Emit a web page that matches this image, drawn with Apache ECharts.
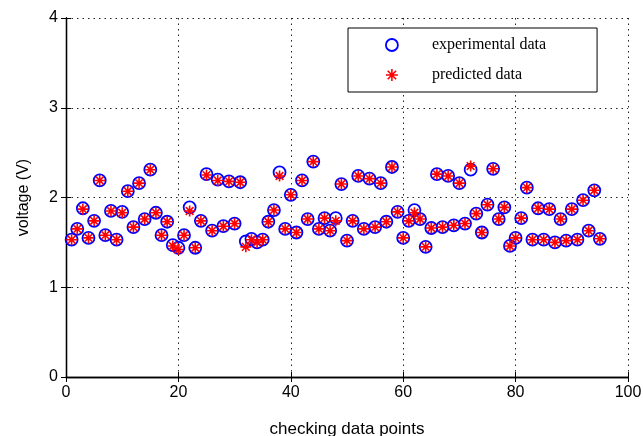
<!DOCTYPE html>
<html>
<head>
<meta charset="utf-8">
<script src="https://cdn.jsdelivr.net/npm/echarts@6/dist/echarts.min.js"></script>
<style>
html,body{margin:0;padding:0;background:#fff;}
#chart{width:643px;height:436px;}
</style>
</head>
<body>
<div id="chart"></div>
<script>
// Data
const xIndex = [1,2,3,4,5,6,7,8,9,10,11,12,13,14,15,16,17,18,19,20,21,22,23,24,25,26,27,28,29,30,31,32,33,34,35,36,37,38,39,40,41,42,43,44,45,46,47,48,49,50,51,52,53,54,55,56,57,58,59,60,61,62,63,64,65,66,67,68,69,70,71,72,73,74,75,76,77,78,79,80,81,82,83,84,85,86,87,88,89,90,91,92,93,94,95];
const experimental = [1.53,1.65,1.88,1.55,1.74,2.19,1.58,1.85,1.53,1.84,2.07,1.67,2.16,1.76,2.31,1.83,1.58,1.73,1.47,1.44,1.58,1.89,1.44,1.74,2.26,1.63,2.20,1.68,2.18,1.71,2.17,1.51,1.54,1.50,1.53,1.73,1.86,2.28,1.65,2.03,1.61,2.19,1.76,2.40,1.65,1.77,1.63,1.77,2.15,1.52,1.74,2.24,1.65,2.21,1.67,2.16,1.73,2.34,1.84,1.55,1.74,1.86,1.76,1.45,1.66,2.26,1.67,2.24,1.69,2.16,1.71,2.31,1.82,1.61,1.92,2.32,1.76,1.89,1.46,1.55,1.77,2.11,1.53,1.88,1.53,1.87,1.50,1.76,1.52,1.87,1.53,1.97,1.63,2.08,1.54];
const predicted = [1.53,1.65,1.87,1.55,1.74,2.19,1.58,1.85,1.53,1.83,2.07,1.67,2.16,1.76,2.31,1.83,1.58,1.73,1.46,1.42,1.58,1.85,1.44,1.74,2.25,1.63,2.19,1.68,2.18,1.71,2.17,1.45,1.53,1.50,1.53,1.73,1.86,2.24,1.65,2.03,1.61,2.19,1.76,2.40,1.65,1.77,1.63,1.74,2.15,1.52,1.74,2.24,1.65,2.21,1.67,2.16,1.73,2.34,1.84,1.55,1.74,1.83,1.76,1.45,1.66,2.26,1.67,2.24,1.69,2.16,1.71,2.35,1.82,1.61,1.92,2.32,1.76,1.89,1.46,1.55,1.77,2.11,1.53,1.88,1.53,1.87,1.50,1.76,1.52,1.87,1.53,1.97,1.63,2.08,1.54];
const xTicks = [0,20,40,60,80,100];
const yTicks = [0,1,2,3,4];
const seriesNames = ['experimental data','predicted data'];

const expData = xIndex.map((x,i)=>[x, experimental[i]]);
const predData = xIndex.map((x,i)=>[x, predicted[i]]);

const starPath = 'path://M5,0L5,10M0,5L10,5M1.5,1.5L8.5,8.5M1.5,8.5L8.5,1.5';
const sans = 'Liberation Sans, Arial, sans-serif';
const serif = 'Liberation Serif, Times New Roman, serif';

const chart = echarts.init(document.getElementById('chart'), null, {renderer:'canvas'});
const gridLine = {show:true, lineStyle:{color:'#222', type:[1.5,4], width:1}};
const axLine = {show:true, lineStyle:{color:'#000', width:1.3}};
chart.setOption({
  animation:false,
  backgroundColor:'#fff',
  grid:{left:66, right:15, top:18, bottom:59, containLabel:false, outerBoundsMode:'none'},
  legend:{
    orient:'vertical', left:348, top:28,
    padding:[8,51,8,37],
    itemWidth:70, itemHeight:12, itemGap:12,
    borderColor:'#000', borderWidth:1, backgroundColor:'#fff',
    textStyle:{fontFamily:serif, fontSize:16, color:'#000', lineHeight:18},
    data:[
      {name:seriesNames[0], icon:'circle', itemStyle:{borderWidth:1.8}},
      {name:seriesNames[1], icon:starPath, itemStyle:{borderWidth:1.6}}
    ]
  },
  xAxis:[{
    type:'value', min:0, max:100, interval:20, position:'bottom',
    axisLine:axLine,
    axisTick:{show:true, inside:true, length:5, lineStyle:{color:'#000'}},
    axisLabel:{color:'#000', fontFamily:sans, fontSize:16, margin:8,
      formatter:(v)=> xTicks.includes(v) ? String(v) : ''},
    splitLine:gridLine,
    name:'checking data points', nameLocation:'middle', nameGap:44,
    nameTextStyle:{color:'#000', fontFamily:sans, fontSize:17}
  },{
    type:'value', min:0, max:100, interval:20, position:'top',
    axisLine:axLine,
    axisTick:{show:true, inside:true, length:5, lineStyle:{color:'#000'}},
    axisLabel:{show:false}, splitLine:{show:false}
  }],
  yAxis:[{
    type:'value', min:0, max:4, interval:1, position:'left',
    axisLine:axLine,
    axisTick:{show:true, inside:true, length:5, lineStyle:{color:'#000'}},
    axisLabel:{color:'#000', fontFamily:sans, fontSize:16, margin:8,
      formatter:(v)=> yTicks.includes(v) ? String(v) : ''},
    splitLine:gridLine,
    name:'voltage (V)', nameLocation:'middle', nameGap:34,
    nameTextStyle:{color:'#000', fontFamily:sans, fontSize:16}
  },{
    type:'value', min:0, max:4, interval:1, position:'right',
    axisLine:axLine,
    axisTick:{show:true, inside:true, length:5, lineStyle:{color:'#000'}},
    axisLabel:{show:false}, splitLine:{show:false}
  }],
  series:[
    {
      name:seriesNames[0], type:'scatter', data:expData,
      symbol:'circle', symbolSize:12,
      itemStyle:{color:'rgba(255,255,255,0)', borderColor:'#0000ff', borderWidth:1.8, opacity:1},
      z:2
    },
    {
      name:seriesNames[1], type:'scatter', data:predData,
      symbol:starPath, symbolSize:11,
      itemStyle:{color:'rgba(255,255,255,0)', borderColor:'#ff0000', borderWidth:1.6, opacity:1},
      z:3
    }
  ]
});
</script>
</body>
</html>
